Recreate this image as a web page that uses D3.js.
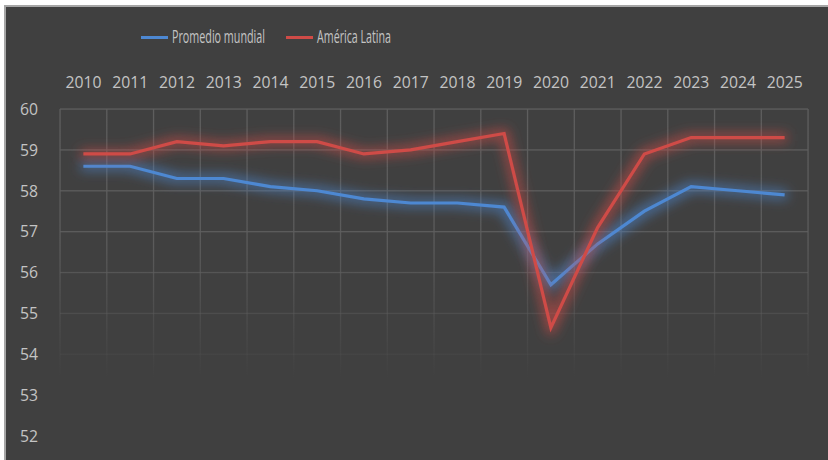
<!DOCTYPE html>
<html><head><meta charset="utf-8">
<script src="https://cdn.jsdelivr.net/npm/d3@7/dist/d3.min.js"></script>
<style>
html,body{margin:0;padding:0;background:#fff;}
svg{display:block;}
text{font-family:"Open Sans","Liberation Sans",sans-serif;fill:#c4c4c4;}
</style></head>
<body>
<svg id="chart" width="828" height="460"></svg>
<script>
const years = ["2010","2011","2012","2013","2014","2015","2016","2017","2018","2019","2020","2021","2022","2023","2024","2025"];
const promedioMundial = [58.6,58.6,58.3,58.3,58.1,58.0,57.8,57.7,57.7,57.6,55.7,56.7,57.5,58.1,58.0,57.9];
const americaLatina = [58.9,58.9,59.2,59.1,59.2,59.2,58.9,59.0,59.2,59.4,54.65,57.1,58.9,59.3,59.3,59.3];
const yTicks = [52,53,54,55,56,57,58,59,60];
const seriesNames = ["Promedio mundial","América Latina"];
const seriesColors = ["#4d88d2","#cf4b47"];

(function(){
const svg = d3.select("#chart");
// frame
svg.append("rect").attr("x",4).attr("y",5).attr("width",830).attr("height",460).attr("fill","#a6a6a6");
svg.append("rect").attr("x",6).attr("y",7).attr("width",830).attr("height",460).attr("fill","#404040");

const pL = 60, pR = 808, pT = 109, pB = 436;
const x = d3.scaleBand().domain(years).range([pL,pR]);
const y = d3.scaleLinear().domain([52,60]).range([pB,pT]);

const defs = svg.append("defs");
const fade = defs.append("linearGradient").attr("id","fade").attr("gradientUnits","userSpaceOnUse")
  .attr("x1",0).attr("x2",0).attr("y1",pT).attr("y2",378);
fade.append("stop").attr("offset","0").attr("stop-color","#5e5e5e").attr("stop-opacity",1);
fade.append("stop").attr("offset","0.5").attr("stop-color","#5e5e5e").attr("stop-opacity",0.9);
fade.append("stop").attr("offset","1").attr("stop-color","#5e5e5e").attr("stop-opacity",0);

const glow = defs.append("filter").attr("id","glow").attr("filterUnits","userSpaceOnUse")
  .attr("x",0).attr("y",0).attr("width",828).attr("height",460);
glow.append("feMorphology").attr("in","SourceGraphic").attr("operator","dilate").attr("radius",2.5).attr("result","d");
glow.append("feGaussianBlur").attr("in","d").attr("stdDeviation",6).attr("result","b");
glow.append("feComponentTransfer").attr("in","b").attr("result","b2")
  .append("feFuncA").attr("type","linear").attr("slope",0.6);
const m = glow.append("feMerge");
m.append("feMergeNode").attr("in","b2");
m.append("feMergeNode").attr("in","SourceGraphic");

// grid
const grid = svg.append("g");
grid.selectAll("rect.h").data(yTicks).join("rect")
  .attr("x",pL).attr("width",pR-pL).attr("y",d=>y(d)-0.6).attr("height",1.3)
  .attr("fill","url(#fade)");
const vlines = years.map(d=>x(d)).concat([pR]);
grid.selectAll("rect.v").data(vlines).join("rect")
  .attr("x",d=>d-0.6).attr("width",1.3).attr("y",pT).attr("height",pB-pT)
  .attr("fill","url(#fade)");

// y axis labels
svg.append("g").selectAll("text").data(yTicks).join("text")
  .attr("x",38).attr("y",d=>y(d)).attr("dy","0.36em").attr("text-anchor","end")
  .attr("font-size",16).attr("textLength",18).attr("lengthAdjust","spacingAndGlyphs").text(d=>d);

// x labels top
svg.append("g").selectAll("text").data(years).join("text")
  .attr("x",d=>x(d)+x.bandwidth()/2).attr("y",82).attr("dy","0.36em").attr("text-anchor","middle")
  .attr("font-size",16).attr("textLength",36).attr("lengthAdjust","spacingAndGlyphs").text(d=>d);

// lines
const line = d3.line().x((d,i)=>x(years[i])+x.bandwidth()/2).y(d=>y(d));
[promedioMundial, americaLatina].forEach((s,k)=>{
  svg.append("path").datum(s).attr("d",line).attr("fill","none")
    .attr("stroke",seriesColors[k]).attr("stroke-width",3.2).attr("stroke-linejoin","miter")
    .attr("filter","url(#glow)");
});

// legend
const lg = svg.append("g");
const legendX = [141, 286];
const legendW = [93, 74];
seriesNames.forEach((n,k)=>{
  lg.append("line").attr("x1",legendX[k]).attr("x2",legendX[k]+27).attr("y1",37.5).attr("y2",37.5)
    .attr("stroke",seriesColors[k]).attr("stroke-width",3);
  lg.append("text").attr("x",legendX[k]+31).attr("y",37).attr("dy","0.36em").attr("font-size",18)
    .attr("textLength",legendW[k]).attr("lengthAdjust","spacingAndGlyphs").text(n);
});
})();
</script>
</body></html>
